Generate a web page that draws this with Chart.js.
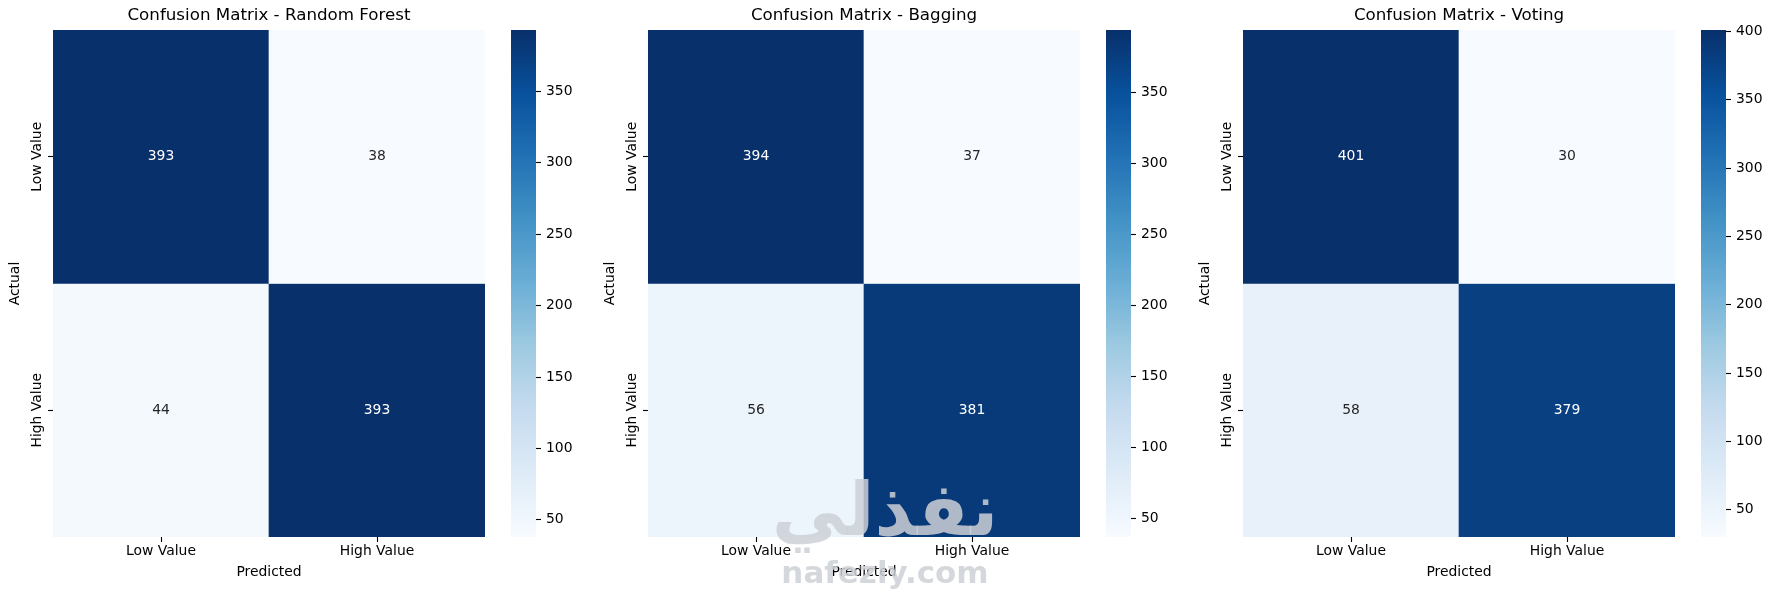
<!DOCTYPE html>
<html>
<head>
<meta charset="utf-8">
<script src="https://cdn.jsdelivr.net/npm/chart.js@4.4.1/dist/chart.umd.min.js"></script>
<style>
  html, body { margin: 0; padding: 0; background: #fff; }
  #fig { position: relative; width: 1770px; height: 590px; overflow: hidden; }
  canvas { position: absolute; top: 0; }
</style>
</head>
<body>
<div id="fig"></div>
<script>
const predictedLabels = ["Low Value", "High Value"];
const actualLabels = ["Low Value", "High Value"];
const modelNames = ["Random Forest", "Bagging", "Voting"];
const rfCounts = [[393, 38], [44, 393]];
const baggingCounts = [[394, 37], [56, 381]];
const votingCounts = [[401, 30], [58, 379]];
const colorbarTicks = [50, 100, 150, 200, 250, 300, 350, 400];

// matplotlib "Blues"
const blues = ["#f7fbff", "#deebf7", "#c6dbef", "#9ecae1", "#6baed6", "#4292c6", "#2171b5", "#08519c", "#08306b"];

const FONT = '"DejaVu Sans", sans-serif';
const PANEL_W = 595;
const HM_W = 500;
const CB_W = 75;

const hexToRgb = (h) => [1, 3, 5].map((i) => parseInt(h.slice(i, i + 2), 16));

const bluesAt = (t) => {
	t = Math.max(0, Math.min(1, t));
	const pos = t * (blues.length - 1);
	const i = Math.min(Math.floor(pos), blues.length - 2);
	const f = pos - i;
	const a = hexToRgb(blues[i]);
	const b = hexToRgb(blues[i + 1]);
	return a.map((v, k) => Math.round(v + (b[k] - v) * f));
};

// same rule seaborn uses to pick the annotation colour
const textColorFor = (rgb) => {
	const lin = rgb.map((c) => {
		c = c / 255;
		return c <= 0.03928 ? c / 12.92 : Math.pow((c + 0.055) / 1.055, 2.4);
	});
	const lum = 0.2126 * lin[0] + 0.7152 * lin[1] + 0.0722 * lin[2];
	return lum > 0.408 ? "#262626" : "#ffffff";
};

const fig = document.getElementById("fig");

const makeCanvas = (left, width) => {
	const c = document.createElement("canvas");
	c.width = width;
	c.height = 590;
	c.style.left = left + "px";
	c.style.width = width + "px";
	c.style.height = "590px";
	fig.appendChild(c);
	return c;
};

const watermark = {
	id: "watermark",
	afterDraw(chart) {
		const ctx = chart.ctx;
		ctx.save();
		ctx.fillStyle = "rgba(205, 208, 214, 0.85)";
		ctx.textAlign = "center";
		ctx.textBaseline = "alphabetic";
		ctx.font = 'bold 74px ' + FONT;
		ctx.fillText("نفذلي", 290, 535);
		ctx.font = 'bold 31px ' + FONT;
		ctx.fillText("nafezly.com", 290, 583);
		ctx.restore();
	},
};

const drawPanel = (idx, counts) => {
	const flat = counts.flat();
	const vmin = Math.min(...flat);
	const vmax = Math.max(...flat);
	const colorOf = (v) => bluesAt((v - vmin) / (vmax - vmin));

	const cellText = {
		id: "cellText",
		afterDatasetsDraw(chart) {
			const { ctx, scales } = chart;
			ctx.save();
			ctx.font = "13.9px " + FONT;
			ctx.textAlign = "center";
			ctx.textBaseline = "middle";
			counts.forEach((row, r) => {
				row.forEach((v, c) => {
					ctx.fillStyle = textColorFor(colorOf(v));
					ctx.fillText(String(v), scales.x.getPixelForValue(c), scales.y.getPixelForValue(r + 0.5));
				});
			});
			ctx.restore();
		},
	};

	const rowLabels = {
		id: "rowLabels",
		afterDraw(chart) {
			const { ctx, scales } = chart;
			ctx.save();
			ctx.font = "13.9px " + FONT;
			ctx.fillStyle = "#000";
			ctx.textAlign = "center";
			ctx.textBaseline = "alphabetic";
			scales.y.ticks.forEach((t, i) => {
				ctx.save();
				ctx.translate(41, scales.y.getPixelForValue(t.value));
				ctx.rotate(-Math.PI / 2);
				ctx.fillText(actualLabels[i], 0, 0);
				ctx.restore();
			});
			ctx.restore();
		},
	};

	const hmPlugins = [cellText, rowLabels];
	if (idx === 1) hmPlugins.push(watermark);

	new Chart(makeCanvas(idx * PANEL_W, HM_W), {
		type: "bar",
		data: {
			labels: predictedLabels,
			datasets: counts.map((row, r) => ({
				data: row.map(() => [r, r + 1]),
				backgroundColor: row.map((v) => "rgb(" + colorOf(v).join(",") + ")"),
				borderWidth: 0,
				barPercentage: 1,
				categoryPercentage: 1,
			})),
		},
		options: {
			responsive: false,
			animation: false,
			devicePixelRatio: 1,
			layout: { padding: { left: 0, right: 15, top: 0, bottom: 0 } },
			plugins: {
				legend: { display: false },
				tooltip: { enabled: false },
				title: {
					display: true,
					fullSize: false,
					text: "Confusion Matrix - " + modelNames[idx],
					color: "#000",
					font: { family: FONT, size: 16.7, weight: "normal" },
					padding: { top: 6, bottom: 4 },
				},
			},
			scales: {
				x: {
					stacked: true,
					grid: { drawOnChartArea: false, offset: false, tickLength: 5, tickWidth: 1.1, tickColor: "#000" },
					border: { display: false },
					ticks: { color: "#000", font: { family: FONT, size: 13.9 }, padding: 1.5, maxRotation: 0, autoSkip: false },
					title: {
						display: true,
						text: "Predicted",
						color: "#000",
						font: { family: FONT, size: 13.9 },
						padding: { top: 0, bottom: 9.5 },
					},
					afterFit: (s) => {
						s.height = 53;
					},
				},
				y: {
					type: "linear",
					min: 0,
					max: actualLabels.length,
					reverse: true,
					afterBuildTicks: (s) => {
						s.ticks = actualLabels.map((_, i) => ({ value: i + 0.5 }));
					},
					ticks: { display: false },
					grid: { drawOnChartArea: false, tickLength: 5, tickWidth: 1.1, tickColor: "#000" },
					border: { display: false },
					title: {
						display: true,
						text: "Actual",
						color: "#000",
						font: { family: FONT, size: 13.9 },
						padding: { top: 7, bottom: 0 },
					},
					afterFit: (s) => {
						s.width = 53;
					},
				},
			},
		},
		plugins: hmPlugins,
	});

	// colour bar
	new Chart(makeCanvas(idx * PANEL_W + HM_W, CB_W), {
		type: "bar",
		data: {
			labels: [""],
			datasets: [
				{
					data: [[vmin, vmax]],
					backgroundColor: (c) => {
						const { chart } = c;
						if (!chart.chartArea) return blues[4];
						const y = chart.scales.y;
						const g = chart.ctx.createLinearGradient(0, y.getPixelForValue(vmin), 0, y.getPixelForValue(vmax));
						blues.forEach((col, i) => g.addColorStop(i / (blues.length - 1), col));
						return g;
					},
					borderWidth: 0,
					barPercentage: 1,
					categoryPercentage: 1,
				},
			],
		},
		options: {
			responsive: false,
			animation: false,
			devicePixelRatio: 1,
			layout: { padding: { left: 11, right: 0, top: 30, bottom: 53 } },
			plugins: { legend: { display: false }, tooltip: { enabled: false } },
			scales: {
				x: { display: false },
				y: {
					position: "right",
					min: vmin,
					max: vmax,
					afterBuildTicks: (s) => {
						s.ticks = colorbarTicks.filter((t) => t >= vmin && t <= vmax).map((v) => ({ value: v }));
					},
					ticks: { color: "#000", font: { family: FONT, size: 13.9 }, padding: 5 },
					grid: { drawOnChartArea: false, tickLength: 5, tickWidth: 1.1, tickColor: "#000" },
					border: { display: false },
					afterFit: (s) => {
						s.width = CB_W - 36;
					},
				},
			},
		},
	});
};

drawPanel(0, rfCounts);
drawPanel(1, baggingCounts);
drawPanel(2, votingCounts);
</script>
</body>
</html>
